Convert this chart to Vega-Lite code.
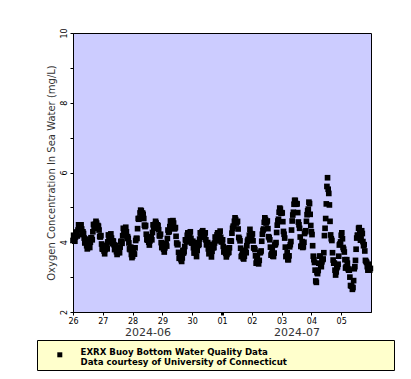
{
  "$schema": "https://vega.github.io/schema/vega-lite/v6.json",
  "padding": {"left": 36, "top": 27, "right": 5, "bottom": 5},
  "spacing": 1,
  "config": {
    "font": "DejaVu Sans",
    "axis": {"grid": false, "domainColor": "black", "tickColor": "black", "labelColor": "black", "tickSize": 3}
  },
  "resolve": {"legend": {"color": "independent"}},
  "vconcat": [
    {
      "spacing": 7,
      "hconcat": [
        {
          "width": 1,
          "height": 1,
          "view": {"stroke": null, "fill": null},
          "data": {"values": [{}]},
          "mark": {"type": "point", "opacity": 0, "size": 0, "strokeWidth": 0}
        },
        {
          "width": 298,
          "height": 279,
          "view": {"fill": "#ccccff", "stroke": "black", "strokeWidth": 1},
          "data": {"values": [
            {"t":"2024-06-26T00:00","v":4.05},{"t":"2024-06-26T00:30","v":4.20},{"t":"2024-06-26T01:00","v":4.10},{"t":"2024-06-26T01:30","v":4.03},{"t":"2024-06-26T02:00","v":4.15},{"t":"2024-06-26T02:30","v":4.29},{"t":"2024-06-26T03:00","v":4.28},{"t":"2024-06-26T03:30","v":4.18},{"t":"2024-06-26T04:00","v":4.35},{"t":"2024-06-26T04:30","v":4.50},{"t":"2024-06-26T05:00","v":4.42},{"t":"2024-06-26T05:30","v":4.38},
            {"t":"2024-06-26T06:00","v":4.45},{"t":"2024-06-26T06:30","v":4.50},{"t":"2024-06-26T07:00","v":4.38},{"t":"2024-06-26T07:30","v":4.22},{"t":"2024-06-26T08:00","v":4.30},{"t":"2024-06-26T08:30","v":4.25},{"t":"2024-06-26T09:00","v":4.12},{"t":"2024-06-26T09:30","v":3.98},{"t":"2024-06-26T10:00","v":4.00},{"t":"2024-06-26T10:30","v":4.09},{"t":"2024-06-26T11:00","v":3.90},{"t":"2024-06-26T11:30","v":3.81},
            {"t":"2024-06-26T12:00","v":3.85},{"t":"2024-06-26T12:30","v":3.99},{"t":"2024-06-26T13:00","v":3.89},{"t":"2024-06-26T13:30","v":3.85},{"t":"2024-06-26T14:00","v":4.00},{"t":"2024-06-26T14:30","v":4.13},{"t":"2024-06-26T15:00","v":4.12},{"t":"2024-06-26T15:30","v":4.07},{"t":"2024-06-26T16:00","v":4.30},{"t":"2024-06-26T16:30","v":4.51},{"t":"2024-06-26T17:00","v":4.42},{"t":"2024-06-26T17:30","v":4.41},
            {"t":"2024-06-26T18:00","v":4.52},{"t":"2024-06-26T18:30","v":4.60},{"t":"2024-06-26T19:00","v":4.55},{"t":"2024-06-26T19:30","v":4.40},{"t":"2024-06-26T20:00","v":4.48},{"t":"2024-06-26T20:30","v":4.46},{"t":"2024-06-26T21:00","v":4.35},{"t":"2024-06-26T21:30","v":4.17},{"t":"2024-06-26T22:00","v":4.15},{"t":"2024-06-26T22:30","v":4.19},{"t":"2024-06-26T23:00","v":3.95},{"t":"2024-06-26T23:30","v":3.81},
            {"t":"2024-06-27T00:00","v":3.80},{"t":"2024-06-27T00:30","v":3.90},{"t":"2024-06-27T01:00","v":3.75},{"t":"2024-06-27T01:30","v":3.67},{"t":"2024-06-27T02:00","v":3.79},{"t":"2024-06-27T02:30","v":3.91},{"t":"2024-06-27T03:00","v":3.89},{"t":"2024-06-27T03:30","v":3.81},{"t":"2024-06-27T04:00","v":4.01},{"t":"2024-06-27T04:30","v":4.21},{"t":"2024-06-27T05:00","v":4.11},{"t":"2024-06-27T05:30","v":4.07},
            {"t":"2024-06-27T06:00","v":4.15},{"t":"2024-06-27T06:30","v":4.24},{"t":"2024-06-27T07:00","v":4.12},{"t":"2024-06-27T07:30","v":3.96},{"t":"2024-06-27T08:00","v":4.04},{"t":"2024-06-27T08:30","v":4.03},{"t":"2024-06-27T09:00","v":3.93},{"t":"2024-06-27T09:30","v":3.79},{"t":"2024-06-27T10:00","v":3.81},{"t":"2024-06-27T10:30","v":3.91},{"t":"2024-06-27T11:00","v":3.73},{"t":"2024-06-27T11:30","v":3.65},
            {"t":"2024-06-27T12:00","v":3.70},{"t":"2024-06-27T12:30","v":3.84},{"t":"2024-06-27T13:00","v":3.74},{"t":"2024-06-27T13:30","v":3.70},{"t":"2024-06-27T14:00","v":3.86},{"t":"2024-06-27T14:30","v":4.02},{"t":"2024-06-27T15:00","v":4.03},{"t":"2024-06-27T15:30","v":3.97},{"t":"2024-06-27T16:00","v":4.19},{"t":"2024-06-27T16:30","v":4.40},{"t":"2024-06-27T17:00","v":4.31},{"t":"2024-06-27T17:30","v":4.27},
            {"t":"2024-06-27T18:00","v":4.35},{"t":"2024-06-27T18:30","v":4.43},{"t":"2024-06-27T19:00","v":4.30},{"t":"2024-06-27T19:30","v":4.11},{"t":"2024-06-27T20:00","v":4.16},{"t":"2024-06-27T20:30","v":4.11},{"t":"2024-06-27T21:00","v":3.98},{"t":"2024-06-27T21:30","v":3.81},{"t":"2024-06-27T22:00","v":3.79},{"t":"2024-06-27T22:30","v":3.86},{"t":"2024-06-27T23:00","v":3.65},{"t":"2024-06-27T23:30","v":3.56},
            {"t":"2024-06-28T00:00","v":3.60},{"t":"2024-06-28T00:30","v":3.76},{"t":"2024-06-28T01:00","v":3.67},{"t":"2024-06-28T01:30","v":3.66},{"t":"2024-06-28T02:00","v":3.84},{"t":"2024-06-28T02:30","v":4.05},{"t":"2024-06-28T03:00","v":4.11},{"t":"2024-06-28T03:30","v":4.11},{"t":"2024-06-28T04:00","v":4.39},{"t":"2024-06-28T04:30","v":4.68},{"t":"2024-06-28T05:00","v":4.66},{"t":"2024-06-28T05:30","v":4.69},
            {"t":"2024-06-28T06:00","v":4.84},{"t":"2024-06-28T06:30","v":4.92},{"t":"2024-06-28T07:00","v":4.90},{"t":"2024-06-28T07:30","v":4.75},{"t":"2024-06-28T08:00","v":4.84},{"t":"2024-06-28T08:30","v":4.80},{"t":"2024-06-28T09:00","v":4.68},{"t":"2024-06-28T09:30","v":4.49},{"t":"2024-06-28T10:00","v":4.45},{"t":"2024-06-28T10:30","v":4.48},{"t":"2024-06-28T11:00","v":4.23},{"t":"2024-06-28T11:30","v":4.08},
            {"t":"2024-06-28T12:00","v":4.06},{"t":"2024-06-28T12:30","v":4.15},{"t":"2024-06-28T13:00","v":4.00},{"t":"2024-06-28T13:30","v":3.92},{"t":"2024-06-28T14:00","v":4.04},{"t":"2024-06-28T14:30","v":4.16},{"t":"2024-06-28T15:00","v":4.14},{"t":"2024-06-28T15:30","v":4.07},{"t":"2024-06-28T16:00","v":4.28},{"t":"2024-06-28T16:30","v":4.50},{"t":"2024-06-28T17:00","v":4.41},{"t":"2024-06-28T17:30","v":4.40},
            {"t":"2024-06-28T18:00","v":4.51},{"t":"2024-06-28T18:30","v":4.60},{"t":"2024-06-28T19:00","v":4.55},{"t":"2024-06-28T19:30","v":4.41},{"t":"2024-06-28T20:00","v":4.50},{"t":"2024-06-28T20:30","v":4.47},{"t":"2024-06-28T21:00","v":4.36},{"t":"2024-06-28T21:30","v":4.19},{"t":"2024-06-28T22:00","v":4.18},{"t":"2024-06-28T22:30","v":4.23},{"t":"2024-06-28T23:00","v":3.99},{"t":"2024-06-28T23:30","v":3.85},
            {"t":"2024-06-29T00:00","v":3.85},{"t":"2024-06-29T00:30","v":3.95},{"t":"2024-06-29T01:00","v":3.80},{"t":"2024-06-29T01:30","v":3.72},{"t":"2024-06-29T02:00","v":3.84},{"t":"2024-06-29T02:30","v":3.97},{"t":"2024-06-29T03:00","v":3.95},{"t":"2024-06-29T03:30","v":3.89},{"t":"2024-06-29T04:00","v":4.11},{"t":"2024-06-29T04:30","v":4.35},{"t":"2024-06-29T05:00","v":4.29},{"t":"2024-06-29T05:30","v":4.31},
            {"t":"2024-06-29T06:00","v":4.45},{"t":"2024-06-29T06:30","v":4.61},{"t":"2024-06-29T07:00","v":4.56},{"t":"2024-06-29T07:30","v":4.46},{"t":"2024-06-29T08:00","v":4.60},{"t":"2024-06-29T08:30","v":4.62},{"t":"2024-06-29T09:00","v":4.55},{"t":"2024-06-29T09:30","v":4.39},{"t":"2024-06-29T10:00","v":4.39},{"t":"2024-06-29T10:30","v":4.42},{"t":"2024-06-29T11:00","v":4.17},{"t":"2024-06-29T11:30","v":3.98},
            {"t":"2024-06-29T12:00","v":3.93},{"t":"2024-06-29T12:30","v":3.94},{"t":"2024-06-29T13:00","v":3.71},{"t":"2024-06-29T13:30","v":3.54},{"t":"2024-06-29T14:00","v":3.56},{"t":"2024-06-29T14:30","v":3.60},{"t":"2024-06-29T15:00","v":3.50},{"t":"2024-06-29T15:30","v":3.45},{"t":"2024-06-29T16:00","v":3.55},{"t":"2024-06-29T16:30","v":3.77},{"t":"2024-06-29T17:00","v":3.69},{"t":"2024-06-29T17:30","v":3.73},
            {"t":"2024-06-29T18:00","v":3.88},{"t":"2024-06-29T18:30","v":4.07},{"t":"2024-06-29T19:00","v":4.06},{"t":"2024-06-29T19:30","v":4.01},{"t":"2024-06-29T20:00","v":4.20},{"t":"2024-06-29T20:30","v":4.27},{"t":"2024-06-29T21:00","v":4.25},{"t":"2024-06-29T21:30","v":4.15},{"t":"2024-06-29T22:00","v":4.21},{"t":"2024-06-29T22:30","v":4.30},{"t":"2024-06-29T23:00","v":4.11},{"t":"2024-06-29T23:30","v":3.98},
            {"t":"2024-06-30T00:00","v":3.98},{"t":"2024-06-30T00:30","v":4.03},{"t":"2024-06-30T01:00","v":3.84},{"t":"2024-06-30T01:30","v":3.69},{"t":"2024-06-30T02:00","v":3.74},{"t":"2024-06-30T02:30","v":3.79},{"t":"2024-06-30T03:00","v":3.70},{"t":"2024-06-30T03:30","v":3.59},{"t":"2024-06-30T04:00","v":3.76},{"t":"2024-06-30T04:30","v":3.99},{"t":"2024-06-30T05:00","v":3.91},{"t":"2024-06-30T05:30","v":3.94},
            {"t":"2024-06-30T06:00","v":4.09},{"t":"2024-06-30T06:30","v":4.27},{"t":"2024-06-30T07:00","v":4.24},{"t":"2024-06-30T07:30","v":4.15},{"t":"2024-06-30T08:00","v":4.30},{"t":"2024-06-30T08:30","v":4.33},{"t":"2024-06-30T09:00","v":4.27},{"t":"2024-06-30T09:30","v":4.15},{"t":"2024-06-30T10:00","v":4.19},{"t":"2024-06-30T10:30","v":4.27},{"t":"2024-06-30T11:00","v":4.07},{"t":"2024-06-30T11:30","v":3.93},
            {"t":"2024-06-30T12:00","v":3.93},{"t":"2024-06-30T12:30","v":3.99},{"t":"2024-06-30T13:00","v":3.81},{"t":"2024-06-30T13:30","v":3.67},{"t":"2024-06-30T14:00","v":3.73},{"t":"2024-06-30T14:30","v":3.79},{"t":"2024-06-30T15:00","v":3.70},{"t":"2024-06-30T15:30","v":3.58},{"t":"2024-06-30T16:00","v":3.74},{"t":"2024-06-30T16:30","v":3.94},{"t":"2024-06-30T17:00","v":3.84},{"t":"2024-06-30T17:30","v":3.85},
            {"t":"2024-06-30T18:00","v":3.98},{"t":"2024-06-30T18:30","v":4.15},{"t":"2024-06-30T19:00","v":4.11},{"t":"2024-06-30T19:30","v":4.04},{"t":"2024-06-30T20:00","v":4.21},{"t":"2024-06-30T20:30","v":4.27},{"t":"2024-06-30T21:00","v":4.25},{"t":"2024-06-30T21:30","v":4.16},{"t":"2024-06-30T22:00","v":4.22},{"t":"2024-06-30T22:30","v":4.32},{"t":"2024-06-30T23:00","v":4.14},{"t":"2024-06-30T23:30","v":4.01},
            {"t":"2024-07-01T00:00","v":4.02},{"t":"2024-07-01T00:30","v":4.07},{"t":"2024-07-01T01:00","v":3.88},{"t":"2024-07-01T01:30","v":3.72},{"t":"2024-07-01T02:00","v":3.76},{"t":"2024-07-01T02:30","v":3.79},{"t":"2024-07-01T03:00","v":3.68},{"t":"2024-07-01T03:30","v":3.58},{"t":"2024-07-01T04:00","v":3.65},{"t":"2024-07-01T04:30","v":3.83},{"t":"2024-07-01T05:00","v":3.70},{"t":"2024-07-01T05:30","v":3.71},
            {"t":"2024-07-01T06:00","v":3.84},{"t":"2024-07-01T06:30","v":4.04},{"t":"2024-07-01T07:00","v":4.04},{"t":"2024-07-01T07:30","v":4.03},{"t":"2024-07-01T08:00","v":4.26},{"t":"2024-07-01T08:30","v":4.40},{"t":"2024-07-01T09:00","v":4.46},{"t":"2024-07-01T09:30","v":4.45},{"t":"2024-07-01T10:00","v":4.60},{"t":"2024-07-01T10:30","v":4.70},{"t":"2024-07-01T11:00","v":4.65},{"t":"2024-07-01T11:30","v":4.55},
            {"t":"2024-07-01T12:00","v":4.58},{"t":"2024-07-01T12:30","v":4.60},{"t":"2024-07-01T13:00","v":4.38},{"t":"2024-07-01T13:30","v":4.14},{"t":"2024-07-01T14:00","v":4.10},{"t":"2024-07-01T14:30","v":4.04},{"t":"2024-07-01T15:00","v":3.83},{"t":"2024-07-01T15:30","v":3.59},{"t":"2024-07-01T16:00","v":3.62},{"t":"2024-07-01T16:30","v":3.74},{"t":"2024-07-01T17:00","v":3.55},{"t":"2024-07-01T17:30","v":3.52},
            {"t":"2024-07-01T18:00","v":3.60},{"t":"2024-07-01T18:30","v":3.77},{"t":"2024-07-01T19:00","v":3.73},{"t":"2024-07-01T19:30","v":3.70},{"t":"2024-07-01T20:00","v":3.90},{"t":"2024-07-01T20:30","v":4.03},{"t":"2024-07-01T21:00","v":4.08},{"t":"2024-07-01T21:30","v":4.06},{"t":"2024-07-01T22:00","v":4.20},{"t":"2024-07-01T22:30","v":4.37},{"t":"2024-07-01T23:00","v":4.25},{"t":"2024-07-01T23:30","v":4.15},
            {"t":"2024-07-02T00:00","v":4.19},{"t":"2024-07-02T00:30","v":4.24},{"t":"2024-07-02T01:00","v":4.04},{"t":"2024-07-02T01:30","v":3.84},{"t":"2024-07-02T02:00","v":3.83},{"t":"2024-07-02T02:30","v":3.79},{"t":"2024-07-02T03:00","v":3.61},{"t":"2024-07-02T03:30","v":3.40},{"t":"2024-07-02T04:00","v":3.46},{"t":"2024-07-02T04:30","v":3.58},{"t":"2024-07-02T05:00","v":3.40},{"t":"2024-07-02T05:30","v":3.38},
            {"t":"2024-07-02T06:00","v":3.48},{"t":"2024-07-02T06:30","v":3.70},{"t":"2024-07-02T07:00","v":3.71},{"t":"2024-07-02T07:30","v":3.75},{"t":"2024-07-02T08:00","v":4.03},{"t":"2024-07-02T08:30","v":4.23},{"t":"2024-07-02T09:00","v":4.34},{"t":"2024-07-02T09:30","v":4.38},{"t":"2024-07-02T10:00","v":4.57},{"t":"2024-07-02T10:30","v":4.70},{"t":"2024-07-02T11:00","v":4.65},{"t":"2024-07-02T11:30","v":4.55},
            {"t":"2024-07-02T12:00","v":4.58},{"t":"2024-07-02T12:30","v":4.61},{"t":"2024-07-02T13:00","v":4.39},{"t":"2024-07-02T13:30","v":4.16},{"t":"2024-07-02T14:00","v":4.13},{"t":"2024-07-02T14:30","v":4.07},{"t":"2024-07-02T15:00","v":3.86},{"t":"2024-07-02T15:30","v":3.63},{"t":"2024-07-02T16:00","v":3.67},{"t":"2024-07-02T16:30","v":3.79},{"t":"2024-07-02T17:00","v":3.60},{"t":"2024-07-02T17:30","v":3.59},
            {"t":"2024-07-02T18:00","v":3.69},{"t":"2024-07-02T18:30","v":3.92},{"t":"2024-07-02T19:00","v":3.94},{"t":"2024-07-02T19:30","v":3.99},{"t":"2024-07-02T20:00","v":4.28},{"t":"2024-07-02T20:30","v":4.49},{"t":"2024-07-02T21:00","v":4.61},{"t":"2024-07-02T21:30","v":4.66},{"t":"2024-07-02T22:00","v":4.86},{"t":"2024-07-02T22:30","v":4.98},{"t":"2024-07-02T23:00","v":4.95},{"t":"2024-07-02T23:30","v":4.83},
            {"t":"2024-07-03T00:00","v":4.85},{"t":"2024-07-03T00:30","v":4.84},{"t":"2024-07-03T01:00","v":4.59},{"t":"2024-07-03T01:30","v":4.31},{"t":"2024-07-03T02:00","v":4.23},{"t":"2024-07-03T02:30","v":4.12},{"t":"2024-07-03T03:00","v":3.86},{"t":"2024-07-03T03:30","v":3.59},{"t":"2024-07-03T04:00","v":3.60},{"t":"2024-07-03T04:30","v":3.70},{"t":"2024-07-03T05:00","v":3.50},{"t":"2024-07-03T05:30","v":3.50},
            {"t":"2024-07-03T06:00","v":3.61},{"t":"2024-07-03T06:30","v":3.87},{"t":"2024-07-03T07:00","v":3.93},{"t":"2024-07-03T07:30","v":4.02},{"t":"2024-07-03T08:00","v":4.35},{"t":"2024-07-03T08:30","v":4.61},{"t":"2024-07-03T09:00","v":4.78},{"t":"2024-07-03T09:30","v":4.86},{"t":"2024-07-03T10:00","v":5.09},{"t":"2024-07-03T10:30","v":5.20},{"t":"2024-07-03T11:00","v":5.20},{"t":"2024-07-03T11:30","v":5.09},
            {"t":"2024-07-03T12:00","v":5.11},{"t":"2024-07-03T12:30","v":5.10},{"t":"2024-07-03T13:00","v":4.85},{"t":"2024-07-03T13:30","v":4.58},{"t":"2024-07-03T14:00","v":4.50},{"t":"2024-07-03T14:30","v":4.40},{"t":"2024-07-03T15:00","v":4.15},{"t":"2024-07-03T15:30","v":3.88},{"t":"2024-07-03T16:00","v":3.89},{"t":"2024-07-03T16:30","v":4.02},{"t":"2024-07-03T17:00","v":3.85},{"t":"2024-07-03T17:30","v":3.87},
            {"t":"2024-07-03T18:00","v":4.00},{"t":"2024-07-03T18:30","v":4.25},{"t":"2024-07-03T19:00","v":4.30},{"t":"2024-07-03T19:30","v":4.33},{"t":"2024-07-03T20:00","v":4.60},{"t":"2024-07-03T20:30","v":4.79},{"t":"2024-07-03T21:00","v":4.90},{"t":"2024-07-03T21:30","v":4.95},{"t":"2024-07-03T22:00","v":5.15},{"t":"2024-07-03T22:30","v":5.11},{"t":"2024-07-03T23:00","v":4.80},{"t":"2024-07-03T23:30","v":4.48},
            {"t":"2024-07-04T00:00","v":4.30},{"t":"2024-07-04T00:30","v":4.22},{"t":"2024-07-04T01:00","v":3.90},{"t":"2024-07-04T01:30","v":3.60},{"t":"2024-07-04T02:00","v":3.50},{"t":"2024-07-04T02:30","v":3.42},{"t":"2024-07-04T03:00","v":3.20},{"t":"2024-07-04T03:30","v":2.89},{"t":"2024-07-04T04:00","v":2.85},{"t":"2024-07-04T04:30","v":3.13},{"t":"2024-07-04T05:00","v":3.10},{"t":"2024-07-04T05:30","v":3.19},
            {"t":"2024-07-04T06:00","v":3.40},{"t":"2024-07-04T06:30","v":3.60},{"t":"2024-07-04T07:00","v":3.60},{"t":"2024-07-04T07:30","v":3.33},{"t":"2024-07-04T08:00","v":3.30},{"t":"2024-07-04T08:30","v":3.44},{"t":"2024-07-04T09:00","v":3.50},{"t":"2024-07-04T09:30","v":3.52},{"t":"2024-07-04T10:00","v":3.70},{"t":"2024-07-04T10:30","v":4.19},{"t":"2024-07-04T11:00","v":4.40},{"t":"2024-07-04T11:30","v":4.68},
            {"t":"2024-07-04T12:00","v":5.10},{"t":"2024-07-04T12:30","v":5.60},{"t":"2024-07-04T13:00","v":5.85},{"t":"2024-07-04T13:30","v":5.52},{"t":"2024-07-04T14:00","v":5.40},{"t":"2024-07-04T14:30","v":5.07},{"t":"2024-07-04T15:00","v":4.60},{"t":"2024-07-04T15:30","v":4.21},{"t":"2024-07-04T16:00","v":4.10},{"t":"2024-07-04T16:30","v":4.05},{"t":"2024-07-04T17:00","v":3.70},{"t":"2024-07-04T17:30","v":3.49},
            {"t":"2024-07-04T18:00","v":3.40},{"t":"2024-07-04T18:30","v":3.40},{"t":"2024-07-04T19:00","v":3.20},{"t":"2024-07-04T19:30","v":3.06},{"t":"2024-07-04T20:00","v":3.15},{"t":"2024-07-04T20:30","v":3.27},{"t":"2024-07-04T21:00","v":3.30},{"t":"2024-07-04T21:30","v":3.37},{"t":"2024-07-04T22:00","v":3.60},{"t":"2024-07-04T22:30","v":3.92},{"t":"2024-07-04T23:00","v":3.95},{"t":"2024-07-04T23:30","v":4.01},
            {"t":"2024-07-05T00:00","v":4.20},{"t":"2024-07-05T00:30","v":4.27},{"t":"2024-07-05T01:00","v":4.10},{"t":"2024-07-05T01:30","v":3.85},{"t":"2024-07-05T02:00","v":3.80},{"t":"2024-07-05T02:30","v":3.72},{"t":"2024-07-05T03:00","v":3.50},{"t":"2024-07-05T03:30","v":3.26},{"t":"2024-07-05T04:00","v":3.30},{"t":"2024-07-05T04:30","v":3.50},{"t":"2024-07-05T05:00","v":3.40},{"t":"2024-07-05T05:30","v":3.24},
            {"t":"2024-07-05T06:00","v":3.20},{"t":"2024-07-05T06:30","v":3.20},{"t":"2024-07-05T07:00","v":3.00},{"t":"2024-07-05T07:30","v":2.76},{"t":"2024-07-05T08:00","v":2.75},{"t":"2024-07-05T08:30","v":2.74},{"t":"2024-07-05T09:00","v":2.65},{"t":"2024-07-05T09:30","v":2.70},{"t":"2024-07-05T10:00","v":2.90},{"t":"2024-07-05T10:30","v":3.24},{"t":"2024-07-05T11:00","v":3.30},{"t":"2024-07-05T11:30","v":3.48},
            {"t":"2024-07-05T12:00","v":3.80},{"t":"2024-07-05T12:30","v":4.12},{"t":"2024-07-05T13:00","v":4.20},{"t":"2024-07-05T13:30","v":4.20},{"t":"2024-07-05T14:00","v":4.40},{"t":"2024-07-05T14:30","v":4.42},{"t":"2024-07-05T15:00","v":4.30},{"t":"2024-07-05T15:30","v":4.06},{"t":"2024-07-05T16:00","v":4.10},{"t":"2024-07-05T16:30","v":4.33},{"t":"2024-07-05T17:00","v":4.25},{"t":"2024-07-05T17:30","v":4.02},
            {"t":"2024-07-05T18:00","v":3.90},{"t":"2024-07-05T18:30","v":3.93},{"t":"2024-07-05T19:00","v":3.75},{"t":"2024-07-05T19:30","v":3.48},{"t":"2024-07-05T20:00","v":3.45},{"t":"2024-07-05T20:30","v":3.42},{"t":"2024-07-05T21:00","v":3.30},{"t":"2024-07-05T21:30","v":3.20},{"t":"2024-07-05T22:00","v":3.25},{"t":"2024-07-05T22:30","v":3.37},{"t":"2024-07-05T23:00","v":3.20},{"t":"2024-07-05T23:30","v":3.25}
          ]},
          "layer": [
            {
              "mark": {"type": "square", "size": 32, "color": "black", "opacity": 1},
              "encoding": {
                "x": {
                  "field": "t", "type": "temporal",
                  "scale": {"domain": [{"year": 2024, "month": 6, "date": 26}, {"year": 2024, "month": 7, "date": 6}]},
                  "axis": {
                    "title": null, "format": "%d", "labelFontSize": 8, "labelPadding": 2,
                    "values": [
                      {"year": 2024, "month": 6, "date": 26}, {"year": 2024, "month": 6, "date": 27}, {"year": 2024, "month": 6, "date": 28},
                      {"year": 2024, "month": 6, "date": 29}, {"year": 2024, "month": 6, "date": 30}, {"year": 2024, "month": 7, "date": 1},
                      {"year": 2024, "month": 7, "date": 2}, {"year": 2024, "month": 7, "date": 3}, {"year": 2024, "month": 7, "date": 4},
                      {"year": 2024, "month": 7, "date": 5}
                    ],
                    "tickWidth": {"condition": {"test": "date(datum.value) == 1", "value": 3}, "value": 1},
                    "labelFlush": false, "labelOverlap": false
                  }
                },
                "y": {
                  "field": "v", "type": "quantitative",
                  "scale": {"domain": [2, 10], "nice": false, "zero": false},
                  "axis": {
                    "title": "Oxygen Concentration In Sea Water (mg/L)",
                    "titleFontSize": 10, "titleFontWeight": "normal", "titleColor": "#333333", "titlePadding": 4,
                    "values": [2, 3, 4, 5, 6, 7, 8, 9, 10],
                    "labelExpr": "datum.value % 2 == 0 ? datum.label : ''",
                    "labelAngle": -90, "labelFontSize": 8, "labelPadding": 2
                  }
                }
              }
            },
            {
              "mark": {"type": "square", "size": 1, "opacity": 0},
              "encoding": {
                "x": {
                  "field": "t", "type": "temporal",
                  "axis": {
                    "title": null, "orient": "bottom", "format": "%Y-%m", "labelFontSize": 11, "labelColor": "#333333",
                    "ticks": false, "domain": false, "labelPadding": 14, "labelFlush": false,
                    "values": [{"year": 2024, "month": 6, "date": 28, "hours": 12}, {"year": 2024, "month": 7, "date": 3, "hours": 12}]
                  }
                }
              }
            }
          ],
          "resolve": {"axis": {"x": "independent"}}
        }
      ]
    },
    {
      "width": 357,
      "height": 30,
      "view": {"fill": "#ffffcc", "stroke": "black", "strokeWidth": 1},
      "data": {"values": [{"series": "EXRX Buoy Bottom Water Quality Data"}]},
      "mark": {"type": "square", "size": 25, "opacity": 0},
      "encoding": {
        "color": {
          "field": "series", "type": "nominal",
          "scale": {"range": ["black"]},
          "legend": {
            "title": null, "orient": "top-left", "offset": 0, "padding": 10.5,
            "symbolType": "square", "symbolSize": 25, "symbolOpacity": 1, "symbolFillColor": "black", "symbolStrokeWidth": 0,
            "symbolOffset": 8, "labelOffset": 16.5,
            "labelFontSize": 8.6, "labelFontWeight": "bold", "labelColor": "black", "labelBaseline": "alphabetic", "labelLimit": 400,
            "labelExpr": "[datum.label, 'Data courtesy of University of Connecticut']"
          }
        }
      }
    }
  ]
}
